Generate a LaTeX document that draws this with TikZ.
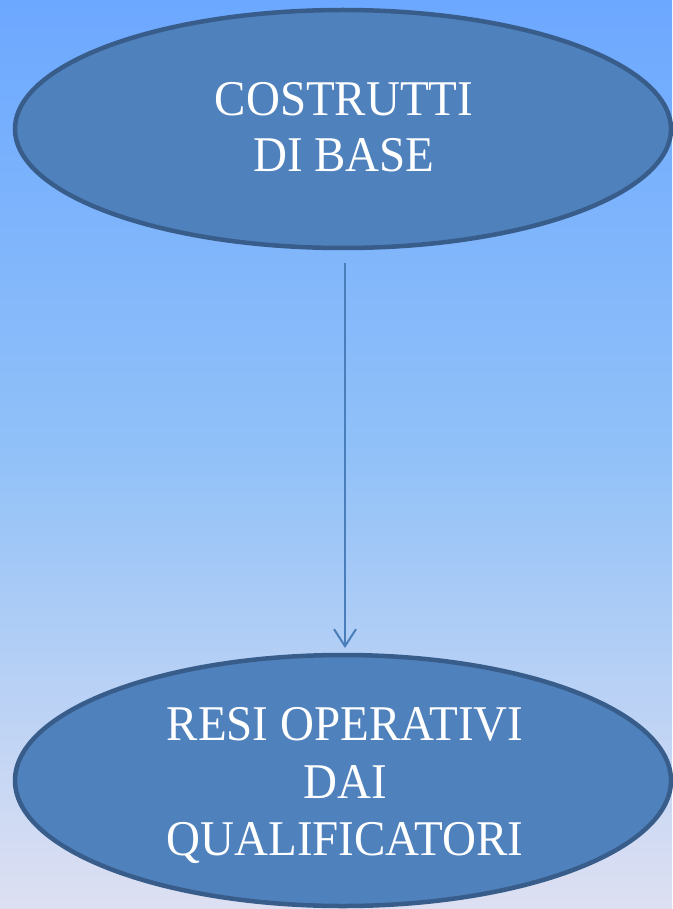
\documentclass[tikz,border=0pt]{standalone}
\usepackage{fontspec}
\setmainfont{Liberation Serif}[FakeStretch=0.94]
\usetikzlibrary{shapes.geometric,arrows.meta}
\definecolor{bgtop}{RGB}{108,168,255}
\definecolor{bgmid}{RGB}{145,193,248}
\definecolor{bgbot}{RGB}{222,224,242}
\definecolor{ellfill}{RGB}{79,129,189}
\definecolor{elldraw}{RGB}{56,93,138}
\definecolor{arrowcol}{RGB}{74,126,187}
\tikzset{
  bubble/.style={ellipse, draw=elldraw, fill=ellfill, line width=4.5pt, inner sep=0pt},
  txt/.style={anchor=base, inner sep=0pt, text=white, font=\fontsize{50}{57}\selectfont},
  link/.style={draw=arrowcol, line width=2pt, -{Straight Barb[length=17pt,width=22pt,line width=2pt]}}
}
\begin{document}
\begin{tikzpicture}[x=1pt,y=-1pt]
\useasboundingbox (0,0) rectangle (672,909);
\shade[top color=bgtop, bottom color=bgbot, middle color=bgmid] (0,0) rectangle (672,909);
\node[bubble, minimum width=656pt, minimum height=238pt] (a) at (343,129) {};
\node[bubble, minimum width=656pt, minimum height=251pt] (b) at (343,780.5) {};
\node[txt] (a1) at (344,116) {COSTRUTTI};
\node[txt] (a2) at (344,172) {DI BASE};
\node[txt] (b1) at (345,740) {RESI OPERATIVI};
\node[txt] (b2) at (345,798) {DAI};
\node[txt] (b3) at (345,855) {QUALIFICATORI};
\coordinate (s) at (345,263);
\coordinate (e) at (345,648);
\draw[link] (s) -- (e);
\end{tikzpicture}
\end{document}
